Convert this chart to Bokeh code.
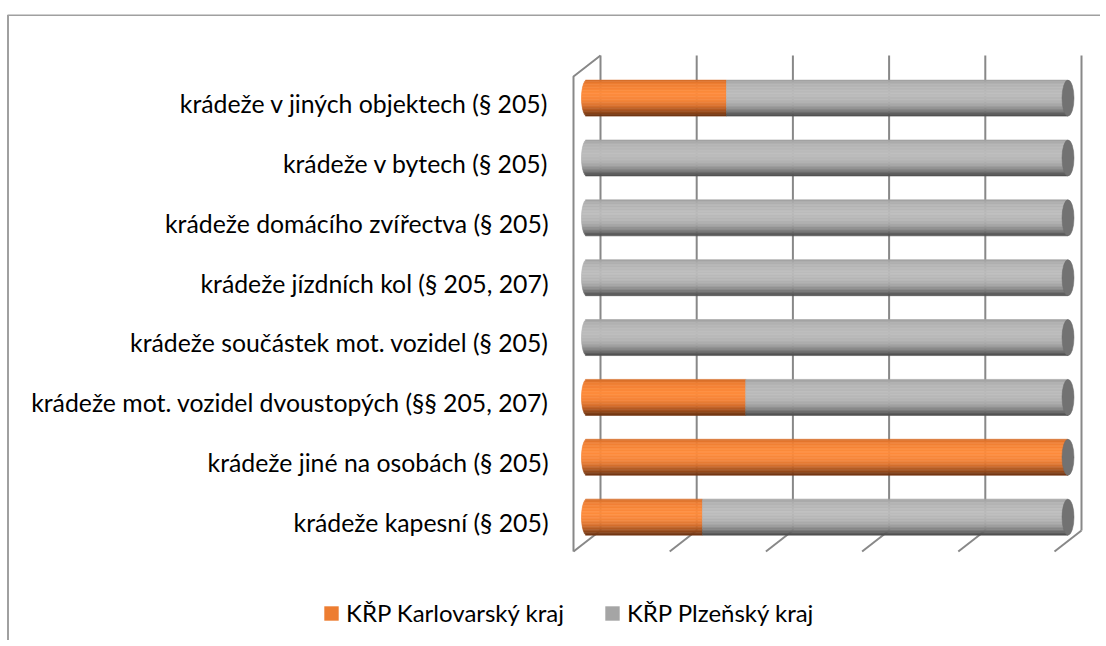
from bokeh.plotting import figure
from bokeh.models import Range1d, ColumnDataSource, Legend, LegendItem
from bokeh.core.properties import value
from bokeh.embed import file_html
from bokeh.resources import INLINE
import numpy as np

# ---------------- data ----------------
categories = [
    "krádeže kapesní (§ 205)",
    "krádeže jiné na osobách (§ 205)",
    "krádeže mot. vozidel dvoustopých (§§ 205, 207)",
    "krádeže součástek mot. vozidel (§ 205)",
    "krádeže jízdních kol (§ 205, 207)",
    "krádeže domácího zvířectva (§ 205)",
    "krádeže v bytech (§ 205)",
    "krádeže v jiných objektech (§ 205)",
]
karlovarsky = [24, 100, 33, 0, 0, 0, 0, 29]
plzensky = [76, 0, 67, 100, 100, 100, 100, 71]
series_names = ["KŘP Karlovarský kraj", "KŘP Plzeňský kraj"]
x_ticks = [0, 20, 40, 60, 80, 100]

# ---------------- layout constants ----------------
W, H, TOP = 1100, 640, 14
X0, X1 = -124.74, 103.95
Y0, Y1 = -1.971, 8.487
px_x = W / (X1 - X0)
px_y = (H - TOP) / (Y1 - Y0)

DX = 27 / px_x          # depth offset (x)
DY = 21 / px_y          # depth offset (y)
YB = -8 / px_y          # back floor
YT = 7 + 48 / px_y      # back top
BAR_OFF = -DX / 2
BAR_DY = 0.09
BAR_H = 36 / px_y
RX = 5.5
LABEL_X = -52 / px_x
FONT = "Lato"

p = figure(width=W, height=H, x_range=Range1d(X0, X1), y_range=Range1d(Y0, Y1),
           output_backend="svg", toolbar_location=None,
           x_axis_location=None, y_axis_location=None,
           min_border_left=0, min_border_right=0, min_border_top=TOP, min_border_bottom=0,
           outline_line_color=None)
p.xgrid.visible = False
p.ygrid.visible = False

# outer chart border (left + top)
bx = X0 + 7.5 / px_x
by = Y1 - 0.5 / px_y
p.line(x=[bx, bx, X1], y=[Y0, by, by], line_color="#A0A0A0", line_width=2)

# walls / gridlines
grid_col = "#888888"
p.segment(x0=x_ticks, y0=[YB] * len(x_ticks), x1=x_ticks, y1=[YT] * len(x_ticks),
          line_color=grid_col, line_width=2)
p.segment(x0=x_ticks, y0=[YB] * len(x_ticks), x1=[v - DX for v in x_ticks],
          y1=[YB - DY] * len(x_ticks), line_color=grid_col, line_width=2)
p.line(x=[-DX, -DX, 0], y=[YB - DY, YT - DY, YT], line_color=grid_col, line_width=2)

# ---------------- cylinders ----------------
def hex2rgb(h):
    h = h.lstrip("#")
    return [int(h[i:i + 2], 16) for i in (0, 2, 4)]

orange_prof = [(0.0, "#D06A28"), (0.12, "#F08034"), (0.38, "#FF8D3D"), (0.58, "#F5853A"),
               (0.72, "#DA7330"), (0.86, "#A65320"), (1.0, "#6A3212")]
gray_prof = [(0.0, "#A0A0A0"), (0.12, "#B3B3B3"), (0.38, "#BDBDBD"), (0.58, "#B5B5B5"),
             (0.72, "#A3A3A3"), (0.86, "#7E7E7E"), (1.0, "#4A4A4A")]

def prof_color(prof, t):
    for (t0, c0), (t1, c1) in zip(prof[:-1], prof[1:]):
        if t0 <= t <= t1:
            f = (t - t0) / (t1 - t0)
            a, b = hex2rgb(c0), hex2rgb(c1)
            return "#%02x%02x%02x" % tuple(int(round(a[k] + (b[k] - a[k]) * f)) for k in range(3))
    return prof[-1][1]

N = 24
ys, lefts, rights, cols = [], [], [], []
for i, (k, pz) in enumerate(zip(karlovarsky, plzensky)):
    segs = [(0, k, orange_prof), (k, k + pz, gray_prof)]
    first = True
    for a, b, prof in segs:
        if b - a <= 0:
            continue
        for j in range(N):
            tc = (j + 0.5) / N
            tn = 2 * tc - 1
            shift = RX * np.sqrt(max(0.0, 1 - tn * tn)) / px_x if first else 0.0
            ys.append(i + BAR_DY + BAR_H / 2 - tc * BAR_H)
            lefts.append(a + BAR_OFF - shift)
            rights.append(b + BAR_OFF)
            cols.append(prof_color(prof, tc))
        first = False

src = ColumnDataSource(dict(y=ys, left=lefts, right=rights, c=cols))
p.hbar(y="y", left="left", right="right", height=BAR_H / N, fill_color="c",
       line_color="c", line_width=0.6, source=src)

totals = [k + pz for k, pz in zip(karlovarsky, plzensky)]
p.ellipse(x=[t + BAR_OFF for t in totals], y=[i + BAR_DY for i in range(len(totals))],
          width=12, height=BAR_H, width_units="screen", height_units="data",
          fill_color="#727272", line_color="#6a6a6a", line_width=0.5)

# category labels
p.text(x=[LABEL_X] * len(categories), y=list(range(len(categories))), text=categories,
       text_align="right", text_baseline="middle", text_font=value(FONT),
       text_font_size="24.8px", text_color="#000000")

# legend (sample renderers placed outside the visible range)
rk = p.hbar(y=[Y0 - 10], left=[0], right=[1], height=0.1, fill_color="#ED7D31", line_color=None)
rp = p.hbar(y=[Y0 - 10], left=[0], right=[1], height=0.1, fill_color="#A5A5A5", line_color=None)
legend = Legend(items=[LegendItem(label=value(series_names[0]), renderers=[rk]),
                       LegendItem(label=value(series_names[1]), renderers=[rp])],
                orientation="horizontal", location=(322, 13),
                glyph_width=18, glyph_height=18, label_standoff=6, spacing=39,
                padding=0, margin=0, border_line_color=None, background_fill_alpha=0,
                label_text_font=FONT, label_text_font_size="24px", label_text_color="#000000")
p.add_layout(legend)

open("out.html", "w").write(file_html(p, INLINE))
